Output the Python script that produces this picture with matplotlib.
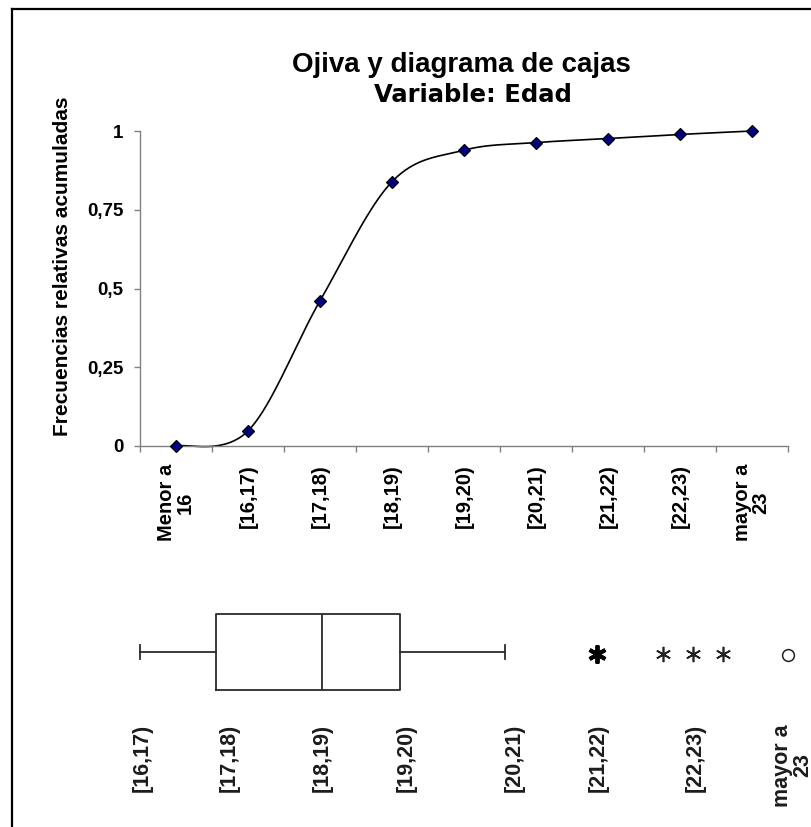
import numpy as np
import matplotlib
matplotlib.use("Agg")
import matplotlib.pyplot as plt
from matplotlib.lines import Line2D

# ---------------- data ----------------
categories = ['Menor a\n16', '[16,17)', '[17,18)', '[18,19)', '[19,20)',
              '[20,21)', '[21,22)', '[22,23)', 'mayor a\n23']
freq_acum = [0.0, 0.048, 0.461, 0.839, 0.939, 0.963, 0.976, 0.989, 1.0]
yticks = [0, 0.25, 0.5, 0.75, 1]
ytick_labels = ['0', '0,25', '0,5', '0,75', '1']

box_labels = ['[16,17)', '[17,18)', '[18,19)', '[19,20)', '[20,21)',
              '[21,22)', '[22,23)', 'mayor a\n23']
box_label_pos = [1.02, 1.96, 2.97, 3.88, 5.04, 5.95, 7.0, 8.05]
whisker_low = 1.0
q1 = 1.82
median = 2.97
q3 = 3.81
whisker_high = 4.94
asterisk_multi = [5.94]              # several coincident cases
asterisk_single = [6.65, 6.97, 7.30]
circle_out = [8.0]

title = 'Ojiva y diagrama de cajas'
subtitle = 'Variable: Edad'
ylabel = 'Frecuencias relativas acumuladas'

# ---------------- figure ----------------
W, H, DPI = 812, 827, 100
fig = plt.figure(figsize=(W / DPI, H / DPI), dpi=DPI)
fig.patch.set_facecolor('white')
FONT = 'Liberation Sans'
GRAY = '#808080'

def fx(px):
    return px / W

def fy(py):
    return 1 - py / H

# frame (top and left)
fig.add_artist(Line2D([fx(12), 1.0], [fy(9), fy(9)], color='black', lw=1.6))
fig.add_artist(Line2D([fx(12), fx(12)], [fy(9), 0.0], color='black', lw=1.6))

fig.text(fx(461), fy(72), title, ha='center', va='baseline',
         fontsize=20, fontweight='bold', family=FONT)
fig.text(fx(473), fy(102), subtitle, ha='center', va='baseline',
         fontsize=17.5, fontweight='bold', family='DejaVu Sans')
fig.text(fx(63), fy(266), ylabel, ha='center', va='center', rotation=90,
         fontsize=15, fontweight='bold', family=FONT)

# ---------------- ogive ----------------
ax = fig.add_axes([fx(140), fy(446), fx(788) - fx(140), fy(131) - fy(446)])
xs = np.arange(len(categories), dtype=float)
ys = np.array(freq_acum, dtype=float)

# Excel-style smoothed line (cubic Bezier, Catmull-Rom control points)
P = np.column_stack([xs, ys])
curve = []
t = np.linspace(0, 1, 40)
for i in range(len(P) - 1):
    p0 = P[i]
    p3 = P[i + 1]
    pm = P[i - 1] if i > 0 else P[i]
    pp = P[i + 2] if i + 2 < len(P) else P[i + 1]
    c1 = p0 + (p3 - pm) / 6.0
    c2 = p3 - (pp - p0) / 6.0
    seg = ((1 - t) ** 3)[:, None] * p0 + (3 * (1 - t) ** 2 * t)[:, None] * c1 \
        + (3 * (1 - t) * t ** 2)[:, None] * c2 + (t ** 3)[:, None] * p3
    curve.append(seg)
curve = np.vstack(curve)
ax.plot(curve[:, 0], curve[:, 1], color='black', lw=1.2, zorder=2, clip_on=False)
ax.plot(xs, ys, linestyle='none', marker='D', ms=6.5, mfc='#000080',
        mec='black', mew=0.9, zorder=3, clip_on=False)

ax.set_xlim(-0.5, len(categories) - 0.5)
ax.set_ylim(0, 1)
for s in ['top', 'right']:
    ax.spines[s].set_visible(False)
for s in ['left', 'bottom']:
    ax.spines[s].set_color(GRAY)
    ax.spines[s].set_linewidth(1.0)

ax.set_xticks(xs)
ax.set_xticklabels(categories, rotation=90, fontsize=14.5, fontweight='bold',
                   family=FONT, ha='center', va='top', linespacing=0.95)
ax.set_xticks(np.arange(-0.5, len(categories), 1.0), minor=True)
ax.tick_params(axis='x', which='major', length=0, pad=13)
ax.tick_params(axis='x', which='minor', length=4.5, color=GRAY, width=1.0,
               direction='out')
ax.set_yticks(yticks)
ax.set_yticklabels(ytick_labels, fontsize=13.5, fontweight='bold', family=FONT)
ax.tick_params(axis='y', length=4, color=GRAY, width=1.0, pad=8)

# ---------------- box plot ----------------
x_left_v = 1 + (12 - 140) / 92.57
x_right_v = 1 + (810 - 140) / 92.57
ax2 = fig.add_axes([fx(12), 0.0, fx(810) - fx(12), fy(560)])
ax2.set_xlim(x_left_v, x_right_v)
ax2.set_ylim(0, 1)
ax2.axis('off')

BOXC = '#2b2b2b'
stats = [dict(whislo=whisker_low, q1=q1, med=median, q3=q3,
              whishi=whisker_high, fliers=[])]
ax2.bxp(stats, positions=[0.655], widths=0.285, orientation='horizontal',
        showfliers=False, capwidths=0.055,
        boxprops=dict(color=BOXC, lw=1.3),
        medianprops=dict(color=BOXC, lw=1.3),
        whiskerprops=dict(color=BOXC, lw=1.3),
        capprops=dict(color=BOXC, lw=1.3), manage_ticks=False)

ax2.plot(asterisk_multi, [0.648] * len(asterisk_multi), linestyle='none',
         marker=(6, 2, 0), ms=13, mec='black', mew=2.8)
ax2.plot(asterisk_single, [0.648] * len(asterisk_single), linestyle='none',
         marker=(6, 2, 0), ms=11, mec='#222222', mew=1.2)
ax2.plot(circle_out, [0.644] * len(circle_out), linestyle='none',
         marker='o', ms=8.5, mfc='white', mec='#222222', mew=1.1)

for lab, pos in zip(box_labels, box_label_pos):
    ax2.text(pos, 0.3856, lab, rotation=90, ha='center', va='top',
             fontsize=15.5, fontweight='bold', family=FONT, color='#1c1c1c',
             linespacing=0.9)

fig.savefig('out.png', dpi=DPI, facecolor='white')
